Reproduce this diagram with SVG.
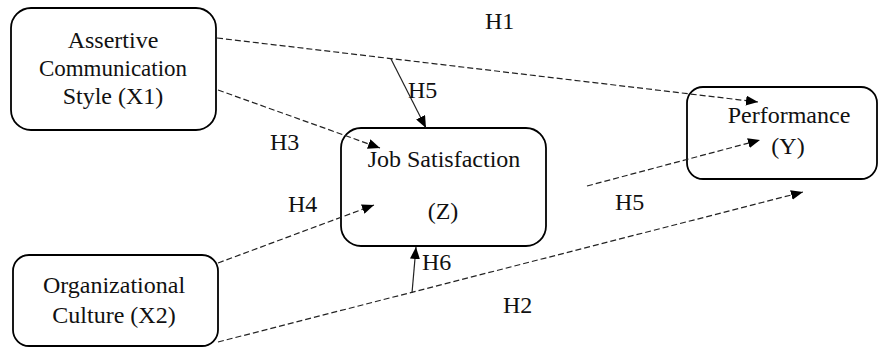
<svg xmlns="http://www.w3.org/2000/svg" width="880" height="348" viewBox="0 0 880 348">
<defs>
<marker id="arr" viewBox="0 0 12 10" refX="12" refY="5" markerWidth="12" markerHeight="10" markerUnits="userSpaceOnUse" orient="auto">
<path d="M0,0 L12,5 L0,10 Z" fill="#000"/>
</marker>
<style>
.box{fill:#fff;stroke:#000;stroke-width:1.8}
.d{fill:none;stroke:#222;stroke-width:1.2;stroke-dasharray:6,3}
.s{fill:none;stroke:#222;stroke-width:1.2}
</style>
</defs>
<rect width="880" height="348" fill="#fff"/>
<g font-family="Liberation Serif, serif" font-size="24" fill="#111">
<g text-anchor="middle">
<g id="x1">
<rect class="box" x="11" y="8" width="205" height="122" rx="20"/>
<text x="113" y="48">Assertive</text>
<text x="113" y="76" font-size="23">Communication</text>
<text x="113" y="104">Style (X1)</text>
</g>
<g id="z">
<rect class="box" x="341" y="128" width="205" height="118" rx="20"/>
<text x="444" y="167">Job Satisfaction</text>
<text x="443" y="219">(Z)</text>
</g>
<g id="y">
<rect class="box" x="687" y="87" width="190" height="92" rx="16"/>
<text x="789" y="123">Performance</text>
<text x="788" y="154">(Y)</text>
</g>
<g id="x2">
<rect class="box" x="13" y="255" width="205" height="91" rx="16"/>
<text x="114" y="293">Organizational</text>
<text x="114" y="323">Culture (X2)</text>
</g>
</g>
<g id="connectors">
<line class="d" x1="217" y1="38" x2="758" y2="102" marker-end="url(#arr)"/>
<line class="s" x1="391" y1="59" x2="426" y2="128" marker-end="url(#arr)"/>
<line class="d" x1="218" y1="90" x2="380" y2="148" marker-end="url(#arr)"/>
<line class="d" x1="218" y1="263" x2="374" y2="205" marker-end="url(#arr)"/>
<line class="d" x1="218" y1="342" x2="803" y2="192" marker-end="url(#arr)"/>
<line class="s" x1="412" y1="293" x2="416" y2="247" marker-end="url(#arr)"/>
<line class="d" x1="587" y1="186" x2="760" y2="140" marker-end="url(#arr)"/>
</g>
<g id="labels">
<text x="485" y="29">H1</text>
<text x="408" y="98">H5</text>
<text x="270" y="150">H3</text>
<text x="288" y="212">H4</text>
<text x="422" y="270">H6</text>
<text x="615" y="210">H5</text>
<text x="503" y="313">H2</text>
</g>
</g>
</svg>
